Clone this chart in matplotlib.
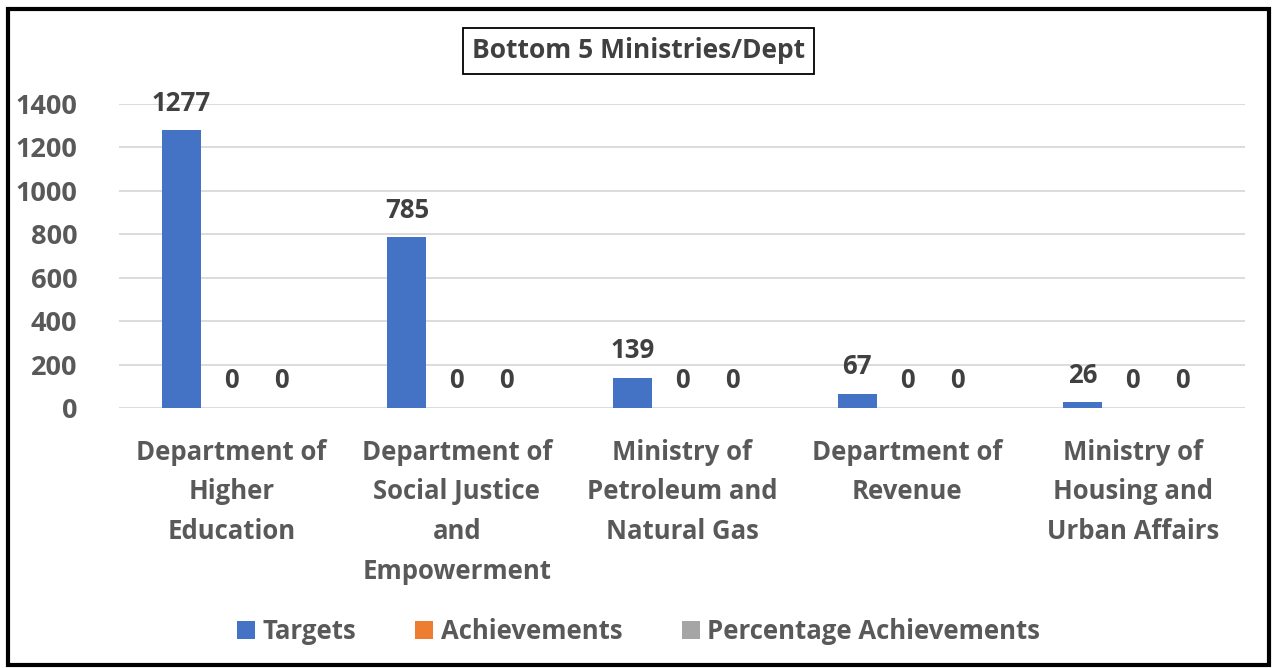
import numpy as np
import matplotlib
matplotlib.use("Agg")
import matplotlib.pyplot as plt
from matplotlib.patches import Rectangle

plt.rcParams['font.family'] = ['Open Sans', 'DejaVu Sans']
plt.rcParams['font.weight'] = 'bold'

categories = ["Department of\nHigher\nEducation",
              "Department of\nSocial Justice\nand\nEmpowerment",
              "Ministry of\nPetroleum and\nNatural Gas",
              "Department of\nRevenue",
              "Ministry of\nHousing and\nUrban Affairs"]
targets = [1277, 785, 139, 67, 26]
achievements = [0, 0, 0, 0, 0]
pct_achievements = [0, 0, 0, 0, 0]

series = [("Targets", targets, "#4472C4"),
          ("Achievements", achievements, "#ED7D31"),
          ("Percentage Achievements", pct_achievements, "#A5A5A5")]

fs = 18.5

fig = plt.figure(figsize=(12.77, 6.68), dpi=100)
ax = fig.add_axes([0.0932, 0.389, 0.882, 0.4557])

x = np.arange(len(categories))
step = 0.222
width = 0.173
for i, (name, vals, col) in enumerate(series):
    bars = ax.bar(x + (i - 1) * step, vals, width, color=col, label=name, zorder=3)
    ax.bar_label(bars, padding=10, fontsize=fs, fontweight='bold', color='#404040')

ax.set_xlim(-0.5, len(categories) - 0.5)
ax.set_ylim(0, 1400)
ax.set_yticks(range(0, 1401, 200))
ax.yaxis.grid(True, color='#d9d9d9', linewidth=1.3, zorder=0)
for s in ax.spines.values():
    s.set_visible(False)
ax.tick_params(axis='y', length=0, pad=30, labelsize=19.5, labelcolor='#595959')
ax.tick_params(axis='x', length=0, pad=22, labelsize=fs, labelcolor='#595959')
ax.set_xticks(x)
ax.set_xticklabels(categories, linespacing=1.6)

fig.text(0.5, 0.924, "Bottom 5 Ministries/Dept", ha='center', va='center',
         fontsize=19, color='#404040', fontweight='bold',
         bbox=dict(boxstyle='square,pad=0.35', facecolor='white',
                   edgecolor='black', linewidth=1.3))

leg = fig.legend(loc='center', bbox_to_anchor=(0.5, 0.055), ncol=3, frameon=False,
                 fontsize=fs, handlelength=0.7, handleheight=0.7, handletextpad=0.3,
                 columnspacing=2.3)
for t in leg.get_texts():
    t.set_color('#595959')

fig.patches.append(Rectangle((0.006, 0.004), 0.988, 0.983, transform=fig.transFigure,
                             fill=False, edgecolor='black', linewidth=3))

fig.savefig("out.png", dpi=100, facecolor='white')
